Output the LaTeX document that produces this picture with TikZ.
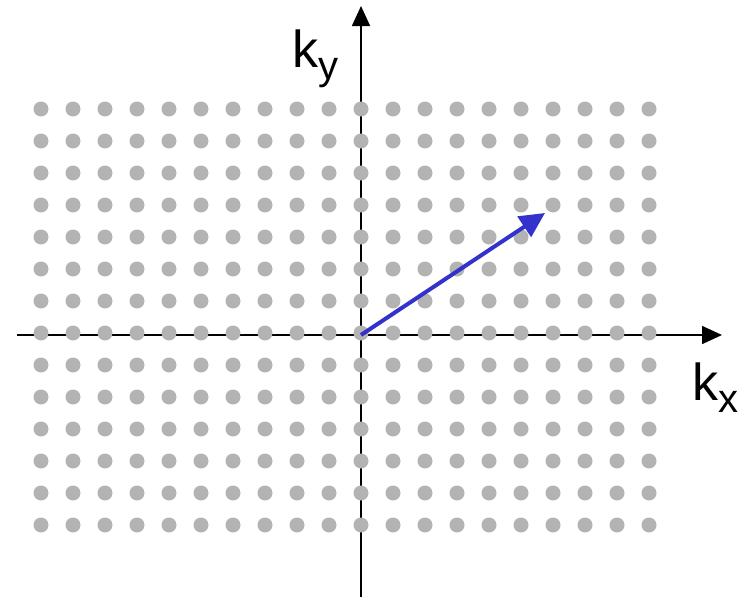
\documentclass[tikz,border=0pt]{standalone}
\usepackage{fontspec}
\setmainfont{Liberation Sans}
\definecolor{dotgray}{HTML}{B3B3B3}
\definecolor{vecblue}{HTML}{3333CC}
\usepackage{tikz}
\usetikzlibrary{arrows.meta}

\begin{document}
\begin{tikzpicture}[
  x=1pt, y=-1pt,
  dot/.style={circle, fill=dotgray, inner sep=0pt, minimum size=15pt},
  axis/.style={-{Triangle[length=20pt, width=18pt]}, line width=1.6pt},
  vec/.style={-{Triangle[length=25pt, width=24pt]}, line width=4pt, vecblue},
  lbl/.style={inner sep=0pt, anchor=base west, font=\fontsize{52}{60}\selectfont},
]
  \useasboundingbox (0,0) rectangle (745,597);

  % axes
  \coordinate (o)  at (361,335);
  \coordinate (xl) at (17,335);
  \coordinate (xr) at (722,335);
  \coordinate (yb) at (361,597);
  \coordinate (yt) at (361,6);
  \draw[axis] (xl) -- (xr);
  \draw[axis] (yb) -- (yt);

  % lattice of k-points
  \foreach \i in {0,...,19}
    \foreach \j in {0,...,13}
      \node[dot] (d-\i-\j) at ({41+32*\i},{109+32*\j}) {};

  % wave vector
  \coordinate (tip) at (545,213);
  \draw[vec] (o) -- (tip);

  % labels
  \node[lbl] (ky) at (292,67)
    {k\raisebox{-12pt}{\fontsize{40}{48}\selectfont y}};
  \node[lbl] (kx) at (692,400)
    {k\raisebox{-12pt}{\fontsize{40}{48}\selectfont x}};
\end{tikzpicture}
\end{document}
